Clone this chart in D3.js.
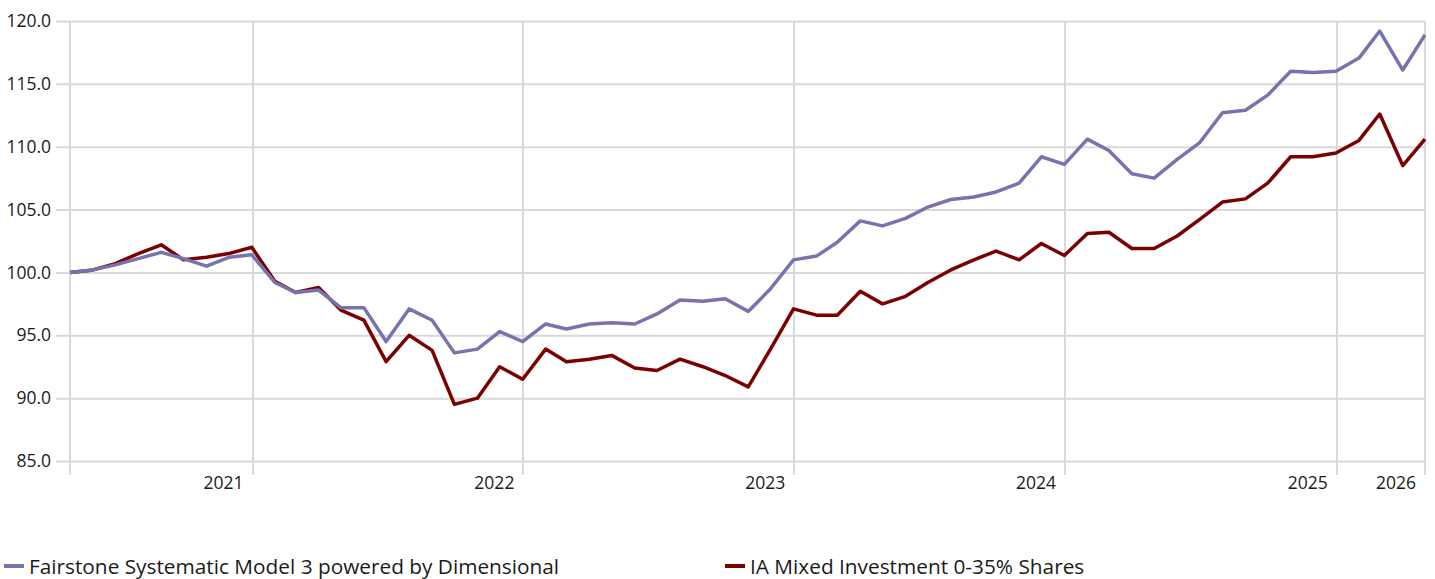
<!DOCTYPE html>
<html>
<head>
<meta charset="utf-8">
<script src="https://cdn.jsdelivr.net/npm/d3@7/dist/d3.min.js"></script>
<style>
  body { margin: 0; background: #fff; }
  text { font-family: "Open Sans", sans-serif; fill: #1a1a1a; }
</style>
</head>
<body>
<script>
// monthly values, month ends from Apr 2020 to Apr 2025
var seriesNames = ["Fairstone Systematic Model 3 powered by Dimensional", "IA Mixed Investment 0-35% Shares"];
var fairstone = [100.0, 100.2, 100.6, 101.1, 101.6, 101.1, 100.5, 101.2, 101.4, 99.2,
                 98.4, 98.6, 97.2, 97.2, 94.5, 97.1, 96.2, 93.6, 93.9, 95.3,
                 94.5, 95.9, 95.5, 95.9, 96.0, 95.9, 96.7, 97.8, 97.7, 97.9,
                 96.9, 98.7, 101.0, 101.3, 102.4, 104.1, 103.7, 104.3, 105.2, 105.8,
                 106.0, 106.4, 107.1, 109.2, 108.6, 110.6, 109.7, 107.85, 107.5, 109.0,
                 110.3, 112.7, 112.9, 114.1, 116.0, 115.9, 116.0, 117.05, 119.2, 116.1,
                 118.9];
var iaMixed = [100.0, 100.2, 100.7, 101.5, 102.2, 101.0, 101.2, 101.5, 102.0, 99.3,
               98.4, 98.8, 97.0, 96.2, 92.9, 95.0, 93.8, 89.5, 90.0, 92.5,
               91.5, 93.9, 92.9, 93.1, 93.4, 92.4, 92.2, 93.1, 92.5, 91.8,
               90.9, 93.9, 97.1, 96.6, 96.6, 98.5, 97.5, 98.1, 99.2, 100.2,
               101.0, 101.7, 101.0, 102.3, 101.35, 103.1, 103.2, 101.9, 101.9, 102.9,
               104.2, 105.6, 105.85, 107.1, 109.2, 109.2, 109.5, 110.5, 112.6, 108.5,
               110.6];
var colors = ["#7674ae", "#7b0000"];
var yTicks = [85, 90, 95, 100, 105, 110, 115, 120];
var xTickDates = ["2021-01-01", "2022-01-01", "2023-01-01", "2024-01-01", "2025-01-01", "2025-04-30"];
var xTickLabels = ["2021", "2022", "2023", "2024", "2025", "2026"];

var width = 1435, height = 579;
var margin = {top: 21, right: 10, bottom: 118, left: 70};
var innerW = width - margin.left - margin.right;
var innerH = height - margin.top - margin.bottom;

var dates = d3.timeMonth.range(new Date(2020, 4, 1), new Date(2025, 5, 1))
  .map(function(d){ return d3.timeDay.offset(d, -1); });
var parse = d3.timeParse("%Y-%m-%d");

var x = d3.scaleTime().domain([dates[0], dates[dates.length - 1]]).range([0, innerW]);
var y = d3.scaleLinear().domain([85, 120]).range([innerH, 0]);

var svg = d3.select("body").append("svg")
  .attr("width", width).attr("height", height);
var g = svg.append("g").attr("transform", "translate(" + margin.left + "," + margin.top + ")");

// horizontal grid + y labels
var yAxis = d3.axisLeft(y).tickValues(yTicks).tickSize(14).tickFormat(d3.format(".1f")).tickPadding(5);
g.append("g")
  .call(yAxis)
  .call(function(s){
    s.select(".domain").remove();
    s.selectAll(".tick line").attr("x1", innerW).attr("x2", -14)
      .attr("stroke", "#d9d9d9").attr("stroke-width", 2);
    s.selectAll("text").style("font-size", "17.5px").attr("fill", "#1a1a1a");
  });

// vertical grid lines
var vLines = [dates[0]].concat(xTickDates.map(parse));
g.selectAll(".vgrid").data(vLines).enter().append("line")
  .attr("x1", function(d){ return Math.round(x(d)); })
  .attr("x2", function(d){ return Math.round(x(d)); })
  .attr("y1", 0).attr("y2", innerH + 14)
  .attr("stroke", "#d9d9d9").attr("stroke-width", 2);

// x labels
g.selectAll(".xlab").data(xTickDates).enter().append("text")
  .attr("x", function(d){ return x(parse(d)) - 9; })
  .attr("y", innerH + 28)
  .attr("text-anchor", "end")
  .style("font-size", "17.5px")
  .text(function(d, i){ return xTickLabels[i]; });

// lines
var line = d3.line().x(function(d, i){ return x(dates[i]); }).y(function(d){ return y(d); });
[iaMixed, fairstone].forEach(function(s, k){
  g.append("path").datum(s)
    .attr("fill", "none")
    .attr("stroke", k == 0 ? colors[1] : colors[0])
    .attr("stroke-width", 3.5)
    .attr("stroke-linejoin", "round")
    .attr("d", line);
});

// legend
var legX = [4, 725];
seriesNames.forEach(function(n, i){
  var lg = svg.append("g").attr("transform", "translate(" + legX[i] + ",566)");
  lg.append("line").attr("x1", 0).attr("x2", 20).attr("y1", 0).attr("y2", 0)
    .attr("stroke", colors[i]).attr("stroke-width", 4);
  lg.append("text").attr("x", 25).attr("y", 7.5)
    .style("font-size", "20.8px").text(n);
});
</script>
</body>
</html>
